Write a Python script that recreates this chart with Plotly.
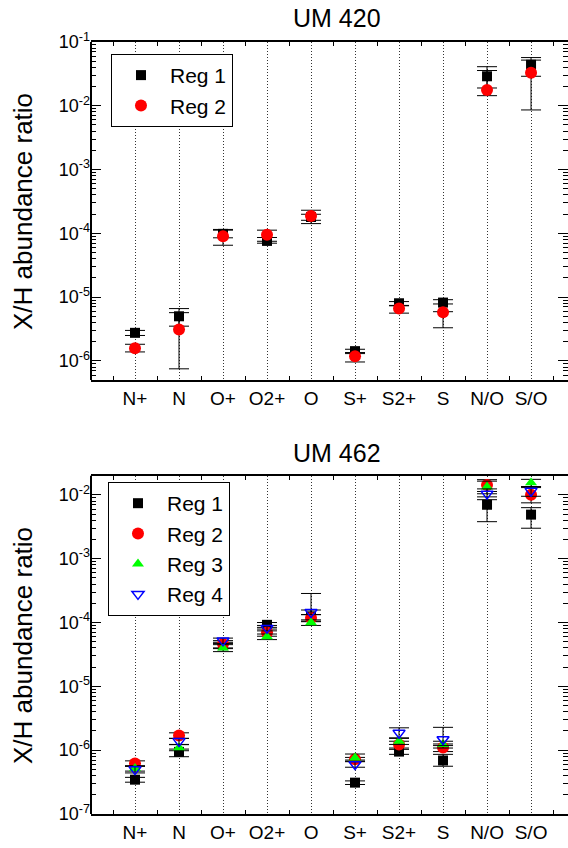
import plotly.graph_objects as go

categories = ["N+", "N", "O+", "O2+", "O", "S+", "S2+", "S", "N/O", "S/O"]

# UM 420
um420_reg1 = [2.75e-6, 5.0e-6, 9.8e-5, 7.6e-5, 1.8e-4, 1.42e-6, 8.0e-6, 8.2e-6, 2.9e-2, 4.4e-2]
um420_reg1_plus = [0.25e-6, 1.6e-6, 1.7e-5, 1.0e-5, 0.5e-4, 0.1e-6, 0.5e-6, 0.9e-6, 1.2e-2, 1.3e-2]
um420_reg1_minus = [0.25e-6, 1.5e-6, 1.3e-5, 0.6e-5, 0.38e-4, 0.12e-6, 0.6e-6, 2.3e-6, 1.0e-2, 1.5e-2]
um420_reg2 = [1.58e-6, 3.1e-6, 9.0e-5, 9.5e-5, 1.87e-4, 1.18e-6, 6.6e-6, 5.8e-6, 1.77e-2, 3.3e-2]
um420_reg2_plus = [0.24e-6, 2.6e-6, 2.2e-5, 1.7e-5, 0.12e-4, 0.17e-6, 0.7e-6, 2.0e-6, 1.8e-2, 1.9e-2]
um420_reg2_minus = [0.2e-6, 2.35e-6, 2.5e-5, 2.0e-5, 0.27e-4, 0.22e-6, 1.0e-6, 2.5e-6, 0.33e-2, 2.44e-2]

# UM 462
um462_reg1 = [3.45e-7, 9.4e-7, 4.4e-5, 9.2e-5, 1.25e-4, 3.1e-7, 9.5e-7, 6.9e-7, 7.0e-3, 4.9e-3]
um462_reg1_plus = [0.3e-7, 1.0e-7, 0.5e-5, 0.8e-5, 1.6e-4, 0.2e-7, 0.8e-7, 1.7e-7, 2.3e-3, 1.4e-3]
um462_reg1_minus = [0.3e-7, 1.5e-7, 0.5e-5, 0.8e-5, 0.2e-4, 0.2e-7, 0.9e-7, 1.3e-7, 3.2e-3, 1.9e-3]
um462_reg2 = [6.2e-7, 1.7e-6, 4.6e-5, 7.0e-5, 1.18e-4, 7.2e-7, 1.23e-6, 1.1e-6, 1.43e-2, 1.0e-2]
um462_reg2_plus = [0.6e-7, 0.17e-6, 0.6e-5, 0.9e-5, 0.15e-4, 0.5e-7, 0.15e-6, 0.15e-6, 0.3e-2, 0.3e-2]
um462_reg2_minus = [0.6e-7, 0.17e-6, 0.6e-5, 0.9e-5, 0.15e-4, 0.5e-7, 0.15e-6, 0.15e-6, 0.3e-2, 0.25e-2]
um462_reg3 = [5.2e-7, 1.1e-6, 4.0e-5, 6.0e-5, 1.0e-4, 7.6e-7, 1.38e-6, 1.23e-6, 1.34e-2, 1.55e-2]
um462_reg3_plus = [0.5e-7, 0.12e-6, 0.5e-5, 0.6e-5, 0.1e-4, 1.1e-7, 0.15e-6, 0.15e-6, 0.3e-2, 0.2e-2]
um462_reg3_minus = [0.5e-7, 0.12e-6, 0.5e-5, 0.6e-5, 0.1e-4, 0.6e-7, 0.15e-6, 0.15e-6, 0.3e-2, 0.21e-2]
um462_reg4 = [5.0e-7, 1.38e-6, 5.2e-5, 8.2e-5, 1.45e-4, 6.0e-7, 1.86e-6, 1.48e-6, 1.04e-2, 1.15e-2]
um462_reg4_plus = [0.6e-7, 0.15e-6, 0.5e-5, 0.8e-5, 0.12e-4, 0.6e-7, 0.38e-6, 0.8e-6, 0.2e-2, 0.2e-2]
um462_reg4_minus = [0.6e-7, 0.15e-6, 0.5e-5, 0.8e-5, 0.12e-4, 0.6e-7, 0.3e-6, 0.3e-6, 0.2e-2, 0.2e-2]

x_pos = list(range(1, len(categories) + 1))
x_mid = [i + 0.5 for i in range(0, len(categories) + 1)]

FONT = "Liberation Sans, Arial, Helvetica, sans-serif"

styles = [
    dict(name="Reg 1", marker=dict(symbol="square", size=10, color="black")),
    dict(name="Reg 2", marker=dict(symbol="circle", size=12, color="#ff0000")),
    dict(name="Reg 3", marker=dict(symbol="triangle-up", size=10.5, color="#00ff00")),
    dict(name="Reg 4", marker=dict(symbol="triangle-down-open", size=10.5, color="#0000ff",
                                   line=dict(width=1.5, color="#0000ff"))),
]

fig = go.Figure()

top_series = [(um420_reg1, um420_reg1_plus, um420_reg1_minus),
              (um420_reg2, um420_reg2_plus, um420_reg2_minus)]
bot_series = [(um462_reg1, um462_reg1_plus, um462_reg1_minus),
              (um462_reg2, um462_reg2_plus, um462_reg2_minus),
              (um462_reg3, um462_reg3_plus, um462_reg3_minus),
              (um462_reg4, um462_reg4_plus, um462_reg4_minus)]

def err(p, m):
    return dict(type="data", array=p, arrayminus=m, symmetric=False,
                color="black", thickness=1, width=10)

for i, (vals, p, m) in enumerate(top_series):
    st = styles[i]
    fig.add_trace(go.Scatter(x=x_pos, y=vals, mode="markers", name=st["name"],
                             marker=st["marker"], error_y=err(p, m),
                             xaxis="x", yaxis="y", legend="legend",
                             legendgroup="t%d" % i))
for i, (vals, p, m) in enumerate(bot_series):
    st = styles[i]
    fig.add_trace(go.Scatter(x=x_pos, y=vals, mode="markers", name=st["name"],
                             marker=st["marker"], error_y=err(p, m),
                             xaxis="x2", yaxis="y2", legend="legend2",
                             legendgroup="b%d" % i))

def minor_log(lo, hi):
    vals = []
    for e in range(lo, hi):
        for k in range(2, 10):
            vals.append(k * 10.0 ** e)
    return vals

def yaxis(rng, decades, domain, anchor):
    return dict(type="log", range=rng, domain=domain, anchor=anchor,
                tickvals=[10.0 ** d for d in decades],
                ticktext=["10<sup>%d</sup>" % d for d in decades],
                ticks="inside", ticklen=10, tickwidth=1, tickcolor="black",
                minor=dict(tickvals=minor_log(decades[0] - 1, decades[-1] + 1),
                           ticks="inside", ticklen=5, tickwidth=1, tickcolor="black",
                           showgrid=False),
                showline=False, mirror="ticks",
                showgrid=False, zeroline=False,
                tickfont=dict(family=FONT, size=18, color="black"))

def xaxis(anchor):
    return dict(range=[0, 10.84], domain=[0, 1], anchor=anchor,
                tickvals=x_pos, ticktext=categories, ticks="",
                showgrid=True, gridcolor="#333333", gridwidth=1, griddash="1px,2px",
                minor=dict(tickvals=x_mid, ticks="inside", ticklen=4, tickwidth=1,
                           tickcolor="black", showgrid=False),
                showline=True, linewidth=2, linecolor="black", mirror="ticks",
                zeroline=False,
                tickfont=dict(family=FONT, size=19, color="black"))

top_dom = [0.5622, 1.0]
bot_dom = [0.0, 0.4382]

legend_common = dict(bgcolor="white", bordercolor="black", borderwidth=1,
                     font=dict(family=FONT, size=21, color="black"),
                     xanchor="left", yanchor="top", itemwidth=48,
                     traceorder="grouped", tracegroupgap=0)

fig.update_layout(
    width=568, height=848,
    margin=dict(l=91, r=0, t=42, b=34),
    paper_bgcolor="white", plot_bgcolor="white",
    font=dict(family=FONT, color="black"),
    xaxis=xaxis("y"),
    yaxis=yaxis([-6.3, -1], [-6, -5, -4, -3, -2, -1], top_dom, "x"),
    xaxis2=xaxis("y2"),
    yaxis2=yaxis([-7, -1.7], [-7, -6, -5, -4, -3, -2], bot_dom, "x2"),
    legend=dict(legend_common, x=0.0419, y=0.9845),
    legend2=dict(legend_common, x=0.0356, y=0.430),
    showlegend=True,
    shapes=[
        dict(type="line", xref="paper", yref="y domain", x0=0, x1=0, y0=0, y1=1,
             line=dict(color="black", width=2)),
        dict(type="line", xref="paper", yref="y2 domain", x0=0, x1=0, y0=0, y1=1,
             line=dict(color="black", width=2)),
    ],
    annotations=[
        dict(text="UM 420", xref="paper", yref="paper", x=0.5157, y=(848 - 34 - 18) / 772,
             xanchor="center", yanchor="middle", showarrow=False,
             font=dict(family=FONT, size=25, color="black")),
        dict(text="UM 462", xref="paper", yref="paper", x=0.5157, y=(848 - 34 - 453) / 772,
             xanchor="center", yanchor="middle", showarrow=False,
             font=dict(family=FONT, size=25, color="black")),
        dict(text="X/H abundance ratio", xref="paper", yref="paper", x=-0.1426,
             y=(814 - 211) / 772, xanchor="center", yanchor="middle", textangle=-90,
             showarrow=False, font=dict(family=FONT, size=26, color="black")),
        dict(text="X/H abundance ratio", xref="paper", yref="paper", x=-0.1426,
             y=(814 - 645) / 772, xanchor="center", yanchor="middle", textangle=-90,
             showarrow=False, font=dict(family=FONT, size=26, color="black")),
    ],
)

fig.write_html("out.html")
